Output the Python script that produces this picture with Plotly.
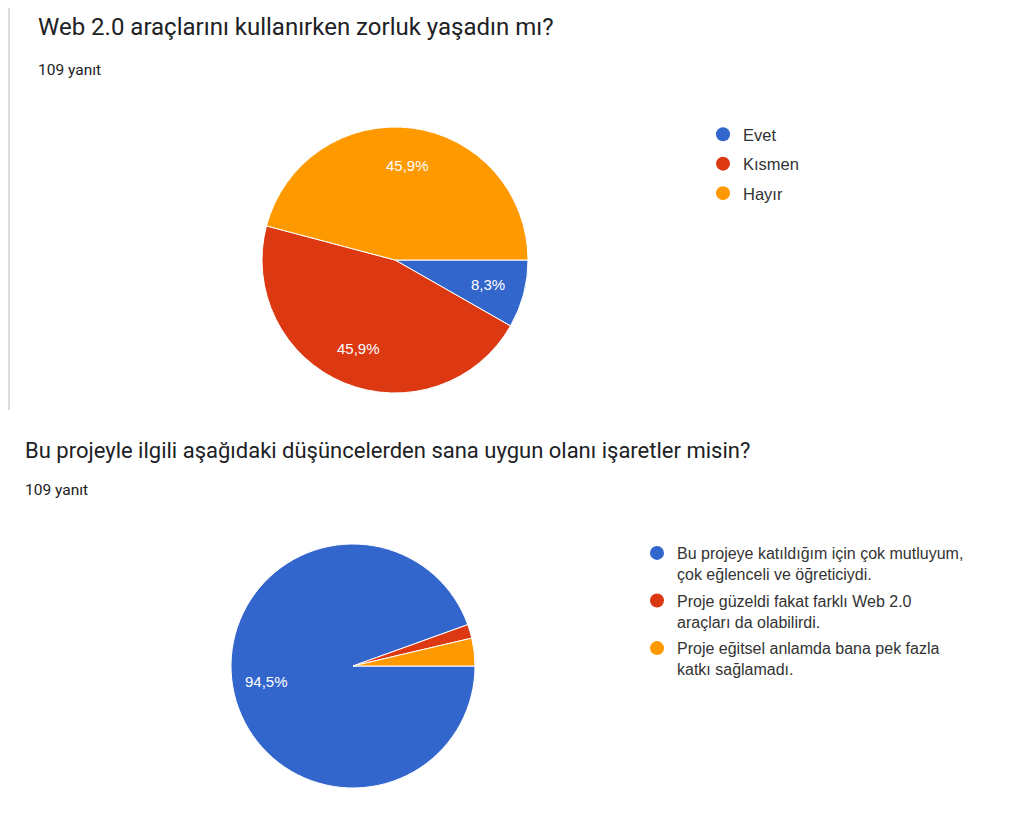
import numpy as np
import plotly.graph_objects as go

# first question
q1_title = "Web 2.0 araçlarını kullanırken zorluk yaşadın mı?"
q1_labels = ["Evet", "Kısmen", "Hayır"]
q1_counts = [9, 50, 50]

# second question
q2_title = "Bu projeyle ilgili aşağıdaki düşüncelerden sana uygun olanı işaretler misin?"
q2_labels = [
    "Bu projeye katıldığım için çok mutluyum,<br>çok eğlenceli ve öğreticiydi.",
    "Proje güzeldi fakat farklı Web 2.0<br>araçları da olabilirdi.",
    "Proje eğitsel anlamda bana pek fazla<br>katkı sağlamadı.",
]
q2_counts = [103, 2, 4]

n_answers = "109 yanıt"
colors = ["#3366CC", "#DC3912", "#FF9900"]

W, H = 1024, 819
OFF = 8  # page body margin


def px_x(v):
    return (v - OFF) / W


def px_y(v):
    return 1 - (v - OFF) / H


fig = go.Figure()


def add_question(labels, counts, cx, cy, r, legend, min_share):
    dom = dict(x=[px_x(cx - r), px_x(cx + r)], y=[px_y(cy + r), px_y(cy - r)])
    fig.add_trace(go.Pie(
        labels=labels, values=counts, sort=False, direction="clockwise",
        rotation=90, marker=dict(colors=colors, line=dict(color="white", width=1)),
        textinfo="none", showlegend=False, domain=dom,
        hoverinfo="label+value+percent",
    ))
    # percentage labels, placed like google charts (on the slice bisector)
    vals = np.array(counts, dtype=float)
    share = vals / vals.sum()
    mids = np.cumsum(share) - share / 2
    for s, m in zip(share, mids):
        if s < min_share:
            continue
        ang = 2 * np.pi * m
        x = cx + 0.72 * r * np.cos(ang)
        y = cy + 0.72 * r * np.sin(ang)
        fig.add_annotation(text=f"{s * 100:.1f}%".replace(".", ","),
                           xref="paper", yref="paper", x=px_x(x), y=px_y(y),
                           xanchor="center", yanchor="middle", showarrow=False,
                           font=dict(color="white", size=15,
                                     family="Liberation Sans, Arial"))
    # legend entries with round symbols
    for i, (lab, c) in enumerate(zip(labels, colors)):
        fig.add_trace(go.Scatter(
            x=[None], y=[None], mode="markers", name=lab,
            marker=dict(symbol="circle", size=14, color=c),
            legend=legend, legendgroup=f"{legend}_{i}",
        ))


add_question(q1_labels, q1_counts, 395, 260, 133, "legend", 0.05)
add_question(q2_labels, q2_counts, 353, 666, 122, "legend2", 0.05)

# card border on the left of the first card
fig.add_shape(type="line", xref="paper", yref="paper",
              x0=0.001, x1=0.001, y0=px_y(410), y1=1,
              line=dict(color="#dadce0", width=2))

title1_font = dict(family="Roboto, Arial", size=24, color="#202124")
title2_font = dict(family="Roboto, Arial", size=22, color="#202124")
sub_font = dict(family="Roboto, Arial", size=15.5, color="#202124")
for txt, x, y, f in [
    (q1_title, 36, 27, title1_font),
    (n_answers, 36, 70, sub_font),
    (q2_title, 23, 450, title2_font),
    (n_answers, 23, 490, sub_font),
]:
    fig.add_annotation(text=txt, xref="paper", yref="paper", x=px_x(x), y=px_y(y),
                       xanchor="left", yanchor="middle", showarrow=False, font=f)

fig.update_layout(
    width=W, height=H, margin=dict(l=0, r=0, t=0, b=0),
    paper_bgcolor="white", plot_bgcolor="white",
    xaxis=dict(visible=False), yaxis=dict(visible=False),
    legend=dict(x=px_x(703), y=px_y(117), xanchor="left", yanchor="top",
                font=dict(family="Liberation Sans, Arial", size=16.5, color="#333333"),
                tracegroupgap=5, bgcolor="rgba(0,0,0,0)"),
    legend2=dict(x=px_x(637), y=px_y(536), xanchor="left", yanchor="top",
                 font=dict(family="Liberation Sans, Arial", size=16, color="#333333"),
                 tracegroupgap=3, valign="top", bgcolor="rgba(0,0,0,0)"),
)

fig.write_html("out.html")
